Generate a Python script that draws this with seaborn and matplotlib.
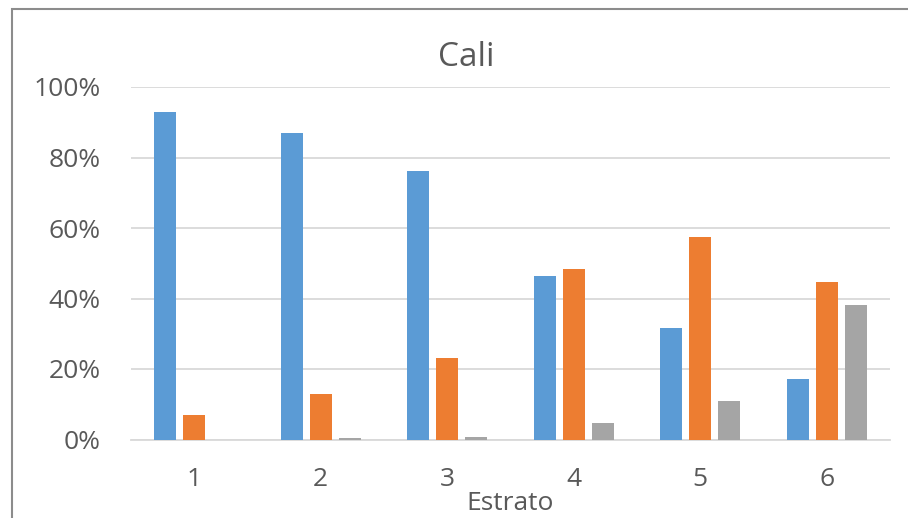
import matplotlib
matplotlib.use("Agg")
import matplotlib.pyplot as plt
import matplotlib.ticker as mticker
from matplotlib.patches import Rectangle
import pandas as pd
import seaborn as sns

# Share of households per socio-economic stratum (percent)
estratos = ["1", "2", "3", "4", "5", "6"]
serie1 = [92.8, 87.0, 76.3, 46.5, 31.7, 17.1]
serie2 = [7.0, 12.8, 23.1, 48.5, 57.4, 44.8]
serie3 = [0.0, 0.3, 0.6, 4.7, 10.9, 38.2]
series = ["Serie1", "Serie2", "Serie3"]
colores = ["#5B9BD5", "#ED7D31", "#A5A5A5"]
y_ticks = [0, 20, 40, 60, 80, 100]

df = pd.DataFrame({
    "Estrato": estratos * 3,
    "Serie": [s for s in series for _ in estratos],
    "Valor": serie1 + serie2 + serie3,
})

sns.set_theme(style="white")
plt.rcParams["font.family"] = ["Open Sans", "DejaVu Sans"]
text_color = "#595959"

fig = plt.figure(figsize=(9.08, 5.18), dpi=100)
ax = fig.add_axes([131 / 908, 1 - 439.5 / 518, (890 - 131) / 908, (439.5 - 87) / 518])

sns.barplot(data=df, x="Estrato", y="Valor", hue="Serie", order=estratos,
            hue_order=series, palette=colores, width=0.688, gap=0.24,
            saturation=1, edgecolor="none", legend=False, ax=ax, zorder=3)

ax.set_ylim(0, 100)
ax.set_xlim(-0.5, len(estratos) - 0.5)
ax.set_yticks(y_ticks)
ax.yaxis.set_major_formatter(mticker.FuncFormatter(lambda v, _: f"{v:.0f}%"))
ax.grid(axis="y", color="#D9D9D9", linewidth=1.3, zorder=0)
ax.grid(axis="x", visible=False)
for side in ["top", "right", "left"]:
    ax.spines[side].set_visible(False)
ax.spines["bottom"].set_color("#D9D9D9")
ax.spines["bottom"].set_linewidth(1.3)

ax.tick_params(axis="both", length=0, labelsize=19, colors=text_color)
ax.tick_params(axis="y", pad=22)
ax.tick_params(axis="x", pad=20)
ax.set_ylabel("")
ax.set_xlabel("Estrato", fontsize=19, color=text_color, labelpad=-1)

# title centred on the chart frame
fig.text(466 / 908, 1 - 66 / 518, "Cali", fontsize=24, color=text_color,
         ha="center", va="baseline")

# chart frame
fig.patches.append(Rectangle((12 / 908, -0.2), 1.2, 1.2 - 9 / 518,
                             transform=fig.transFigure, fill=False,
                             edgecolor="#8C8C8C", linewidth=1.5))

fig.savefig("out.png", dpi=100)
